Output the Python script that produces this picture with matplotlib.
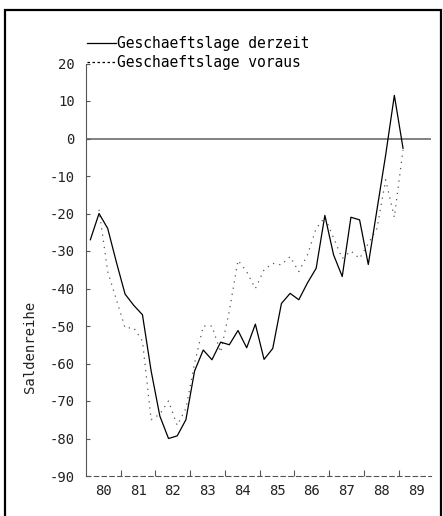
import numpy as np
import matplotlib
matplotlib.use('Agg')
import matplotlib.pyplot as plt
from matplotlib.lines import Line2D
from matplotlib.patches import Rectangle

#####
# Data (quarterly, 1980 Q1 .. 1989 Q1)
#####

quarters = 80.125 + 0.25 * np.arange(37)

derzeit = [-27, -20, -24, -33, -41.5, -44.5, -47, -62, -74, -80,
           -79.3, -75, -62, -56.4, -59, -54.3, -55, -51.2, -55.8, -49.5,
           -58.9, -56, -44, -41.3, -43, -38.5, -34.6, -20.5, -31, -36.8,
           -21, -21.7, -33.6, -19, -4.4, 11.5, -2.6]

voraus = [np.nan, -19, -35.5, -43, -50.5, -50.5, -54, -75, -73.5, -70,
          -76.5, -72, -60, -50, -50, -57, -46, -32.5, -35.5, -40,
          -35, -33.3, -33.7, -31.5, -35.5, -31, -24, -21, -26.5, -32,
          -30, -32, -28, -24, -11, -21, -3]

year_labels = ['80', '81', '82', '83', '84', '85', '86', '87', '88', '89']
y_ticks = [-90, -80, -70, -60, -50, -40, -30, -20, -10, 0, 10, 20]
y_labels = ['-90', '-80', '-70', '-60', '-50', '-40', '-30', '-20', '-10', '0', '10', '20']

legend_labels = ['Geschaeftslage derzeit', 'Geschaeftslage voraus']
y_title = 'Saldenreihe'

#####
# Plot
#####

W, H = 443, 516
fig = plt.figure(figsize=(W / 100, H / 100), dpi=100)
fnt = {'family': 'DejaVu Sans Mono', 'size': 10, 'color': '#222222'}
leg_fnt = {'family': 'DejaVu Sans Mono', 'size': 10.5}

# outer frame
fig.patches.append(Rectangle((5 / W, -0.02), 436 / W, 1.02 - 10 / H,
                             transform=fig.transFigure, fill=False,
                             edgecolor='black', linewidth=1.6))

ax = fig.add_axes([86 / W, 40 / H, 345 / W, 412.5 / H])

ax.axhline(0, color='#777777', linewidth=1.3, zorder=1)
ax.plot(quarters, derzeit, color='black', linewidth=0.9, zorder=3)
ax.plot(quarters, voraus, color='#555555', linewidth=0.9,
        linestyle=(0, (1, 4)), zorder=2)

ax.set_xlim(80, 89.93)
ax.set_ylim(-90, 20)

ax.spines['top'].set_visible(False)
ax.spines['right'].set_visible(False)
ax.spines['left'].set_color('#555555')
ax.spines['bottom'].set_color('#555555')
ax.spines['bottom'].set_linestyle((0, (4, 3)))

ax.set_yticks(y_ticks)
ax.set_yticklabels(y_labels, fontdict=fnt)
ax.tick_params(axis='y', direction='in', length=3, pad=8, color='#555555')

ax.set_xticks(np.arange(81, 90))
ax.set_xticklabels([])
ax.set_xticks(np.arange(80.5, 90.5, 1.0)[:10], minor=True)
ax.set_xticklabels(year_labels, minor=True, fontdict=fnt)
ax.tick_params(axis='x', which='major', direction='in', length=4, color='#555555')
ax.tick_params(axis='x', which='minor', length=0, pad=6)

fig.text(30 / W, 1 - 347 / H, y_title, rotation=90, ha='center', va='center',
         fontdict=fnt)

handles = [Line2D([], [], color='black', linewidth=0.9),
           Line2D([], [], color='black', linewidth=0.9, linestyle=(0, (2, 2)))]
ax.legend(handles, legend_labels, loc='upper left',
          bbox_to_anchor=(87 / W, 1 - 36 / H), bbox_transform=fig.transFigure,
          frameon=False, handlelength=2.0, handletextpad=0.05,
          borderpad=0, borderaxespad=0, labelspacing=0.3, prop=leg_fnt)

plt.savefig('out.png', dpi=100)
